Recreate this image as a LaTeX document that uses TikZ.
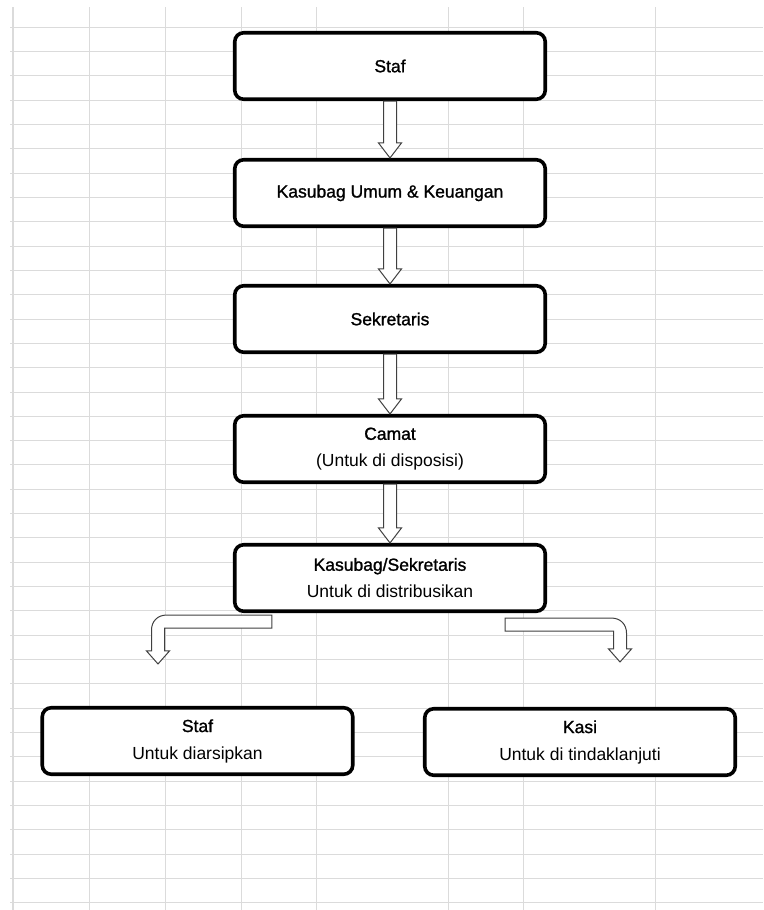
\documentclass[tikz,border=0pt]{standalone}
\usepackage{fontspec}
\setmainfont{Liberation Sans}
\newfontfamily\titlefont{Liberation Sans}[FakeBold=1.2]
\usepackage{tikz}
\usetikzlibrary{calc}

% block arrow straight down, from box #1 to box #2
\newcommand{\blockdown}[2]{%
  \draw[blockarrow] ($(#1.south)+(-6.5,0)$) -- ($(#2.north)+(-6.5,-15)$) -- ($(#2.north)+(-11.5,-15)$)
    -- (#2.north) -- ($(#2.north)+(11.5,-15)$) -- ($(#2.north)+(6.5,-15)$) -- ($(#1.south)+(6.5,0)$) -- cycle;}

% bent block arrow, #1 start, #2 tip, #3 side (-1 left, 1 right)
\newcommand{\bentarrow}[3]{%
  \draw[blockarrow] ($(#1)+(0,-6.5)$) -- ($(#2|-#1)+({-#3*8.5},-6.5)$)
    .. controls ($(#2|-#1)+({#3*0.3},-6.5)$) and ($(#2|-#1)+({#3*6.5},-0.3)$) .. ($(#2|-#1)+({#3*6.5},8.5)$)
    -- ($(#2)+({#3*6.5},-13)$) -- ($(#2)+({#3*11.5},-13)$) -- (#2)
    -- ($(#2)+({-#3*11.5},-13)$) -- ($(#2)+({-#3*6.5},-13)$)
    -- ($(#2|-#1)+({-#3*6.5},6.5)$) -- ($(#1)+(0,6.5)$) -- cycle;}

\begin{document}
\begin{tikzpicture}[x=1pt,y=-1pt,
    gridline/.style={draw=black!14,line width=0.9pt},
    box/.style={draw=black,line width=3.6pt,rounded corners=9pt,fill=white,
      minimum width=310.5pt,minimum height=66.5pt,align=center,
      font=\fontsize{17.5}{27}\selectfont},
    blockarrow/.style={draw=black!75,line width=1pt,fill=white}]
    \xdef\rowh{24.33}
    \useasboundingbox (0,0) rectangle (763,910);

    % sheet grid
    \foreach \i in {0,...,36}
      \draw[gridline] (10,27+\i*\rowh) -- (763,27+\i*\rowh);
    \foreach \x in {89,165,241,316,448,523,655}
      \draw[gridline] (\x,7) -- (\x,910);
    \draw[gridline,line width=1.6pt] (13,7) -- (13,910);

    % boxes
    \node[box] (staf) at (390,66) {{\titlefont Staf}};
    \node[box] (umum) at (390,193) {{\titlefont Kasubag Umum \& Keuangan}};
    \node[box] (sekretaris) at (390,319) {{\titlefont Sekretaris}};
    \node[box] (camat) at (390,449) {{\titlefont Camat}\\(Untuk di disposisi)};
    \node[box] (distribusi) at (390,578) {{\titlefont Kasubag/Sekretaris}\\Untuk di distribusikan};
    \node[box] (arsip) at (197.5,741) {{\titlefont Staf}\\Untuk diarsipkan};
    \node[box] (kasi) at (580,742) {{\titlefont Kasi}\\Untuk di tindaklanjuti};

    \foreach \a/\b in {staf/umum,umum/sekretaris,sekretaris/camat,camat/distribusi}{
      \blockdown{\a}{\b}
    }

    % split
    \coordinate (lstart) at ($(distribusi.south west)+(39,8.5)$);
    \coordinate (ltip) at ($(arsip.north)+(-39.5,-42)$);
    \coordinate (rstart) at ($(distribusi.south east)+(-42,11.5)$);
    \coordinate (rtip) at ($(kasi.north)+(40,-45)$);
    \bentarrow{lstart}{ltip}{-1}
    \bentarrow{rstart}{rtip}{1}
\end{tikzpicture}
\end{document}
